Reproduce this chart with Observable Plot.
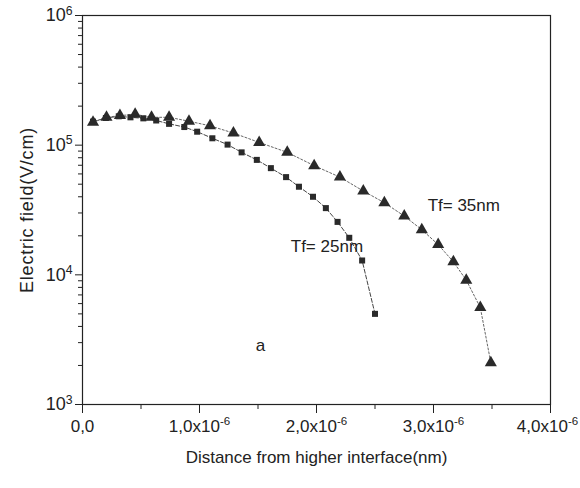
<!DOCTYPE html>
<html>
<head>
<meta charset="utf-8">
<script src="https://cdn.jsdelivr.net/npm/d3@7"></script>
<script src="https://cdn.jsdelivr.net/npm/@observablehq/plot@0.6"></script>
<style>
  html, body { margin: 0; padding: 0; background: #fff; }
  #chart svg { font-family: "Liberation Sans", Arial, sans-serif; }
</style>
</head>
<body>
<div id="chart"></div>
<script>
// Tf = 35 nm (triangles): distance (cm) and electric field (V/cm)
const x35 = [0.09e-6, 0.205e-6, 0.32e-6, 0.45e-6, 0.59e-6, 0.74e-6, 0.91e-6, 1.09e-6, 1.29e-6, 1.51e-6, 1.75e-6, 1.98e-6, 2.20e-6, 2.40e-6, 2.58e-6, 2.75e-6, 2.90e-6, 3.04e-6, 3.17e-6, 3.28e-6, 3.40e-6, 3.49e-6];
const e35 = [1.50e5, 1.64e5, 1.69e5, 1.73e5, 1.64e5, 1.64e5, 1.53e5, 1.41e5, 1.24e5, 1.05e5, 8.8e4, 6.95e4, 5.67e4, 4.43e4, 3.6e4, 2.84e4, 2.23e4, 1.71e4, 1.26e4, 9.1e3, 5.6e3, 2.1e3];
// Tf = 25 nm (squares)
const x25 = [0.09e-6, 0.20e-6, 0.31e-6, 0.41e-6, 0.52e-6, 0.63e-6, 0.74e-6, 0.87e-6, 0.98e-6, 1.11e-6, 1.24e-6, 1.36e-6, 1.49e-6, 1.61e-6, 1.74e-6, 1.85e-6, 1.97e-6, 2.08e-6, 2.18e-6, 2.28e-6, 2.39e-6, 2.50e-6];
const e25 = [1.52e5, 1.62e5, 1.67e5, 1.64e5, 1.61e5, 1.55e5, 1.46e5, 1.38e5, 1.27e5, 1.13e5, 1.01e5, 8.8e4, 7.7e4, 6.65e4, 5.67e4, 4.78e4, 4.0e4, 3.27e4, 2.56e4, 1.93e4, 1.29e4, 5.0e3];

const yMajor = [1e3, 1e4, 1e5, 1e6];
const yMinor = [2e3,3e3,4e3,5e3,6e3,7e3,8e3,9e3,2e4,3e4,4e4,5e4,6e4,7e4,8e4,9e4,2e5,3e5,4e5,5e5,6e5,7e5,8e5,9e5];
const xMajor = [0, 1e-6, 2e-6, 3e-6, 4e-6];
const xMinor = [0.5e-6, 1.5e-6, 2.5e-6, 3.5e-6];

const annText = ["Tf= 35nm", "Tf= 25nm", "a"];
const annX = [2.95e-6, 1.78e-6, 1.48e-6];
const annY = [3.43e4, 1.66e4, 2.86e3];

const d35 = x35.map((x, i) => ({x, y: e35[i]}));
const d25 = x25.map((x, i) => ({x, y: e25[i]}));
const ann = annText.map((t, i) => ({t, x: annX[i], y: annY[i]}));

const chart = Plot.plot({
  width: 580,
  height: 488,
  marginLeft: 82,
  marginRight: 30,
  marginTop: 15,
  marginBottom: 84,
  style: {fontSize: "16px", color: "#222"},
  x: {domain: [0, 4e-6]},
  y: {type: "log", domain: [1e3, 1e6]},
  marks: [
    Plot.frame({stroke: "#222", strokeWidth: 1.2}),
    Plot.axisY(yMinor, {tickSize: 4, text: null, label: null, stroke: "#222"}),
    Plot.axisY(yMajor, {
      tickSize: 7, tickPadding: 3, stroke: "#222", fontSize: 18,
      tickFormat: d => "10|" + Math.round(Math.log10(d)),
      label: "Electric field(V/cm)", labelAnchor: "center", labelArrow: "none", labelOffset: 62
    }),
    Plot.axisX(xMinor, {tickSize: 5, text: null, label: null, stroke: "#222"}),
    Plot.axisX(xMajor, {
      tickSize: 9, tickPadding: 6, stroke: "#222", fontSize: 17,
      tickFormat: d => d === 0 ? "0,0" : (d * 1e6).toFixed(1).replace(".", ",") + "x10|-6",
      label: "Distance from higher interface(nm)", labelAnchor: "center", labelArrow: "none", labelOffset: 58
    }),
    Plot.line(d25, {x: "x", y: "y", stroke: "#444", strokeWidth: 1, strokeDasharray: "4,2"}),
    Plot.line(d35, {x: "x", y: "y", stroke: "#666", strokeWidth: 1, strokeDasharray: "2,2"}),
    Plot.dot(d25, {x: "x", y: "y", symbol: "square", r: 3.4, fill: "#2a2a2a", stroke: "none"}),
    Plot.dot(d35, {x: "x", y: "y", symbol: "triangle", r: 4.5, fill: "#2a2a2a", stroke: "none"}),
    Plot.text(ann, {x: "x", y: "y", text: "t", textAnchor: "start", fontSize: 17, fill: "#222"})
  ]
});

// Turn "base|exp" tick labels into real superscripts
const NS = "http://www.w3.org/2000/svg";
chart.querySelectorAll("text").forEach(t => {
  const s = t.textContent;
  if (!s.includes("|")) return;
  const [base, exp] = s.split("|");
  while (t.firstChild) t.removeChild(t.firstChild);
  const b = document.createElementNS(NS, "tspan");
  b.textContent = base;
  const e = document.createElementNS(NS, "tspan");
  e.textContent = exp;
  e.setAttribute("font-size", "0.68em");
  e.setAttribute("dy", "-0.55em");
  t.appendChild(b);
  t.appendChild(e);
});
// keep the last x tick label inside the picture
const xLabels = chart.querySelectorAll('g[aria-label="x-axis tick label"] text');
if (xLabels.length) xLabels[xLabels.length - 1].setAttribute("dx", "-3");
// letter spacing of the y-axis title
chart.querySelectorAll('g[aria-label="y-axis label"] text').forEach(t => {
  t.setAttribute("letter-spacing", "0.8");
});
document.getElementById("chart").appendChild(chart);
</script>
</body>
</html>
